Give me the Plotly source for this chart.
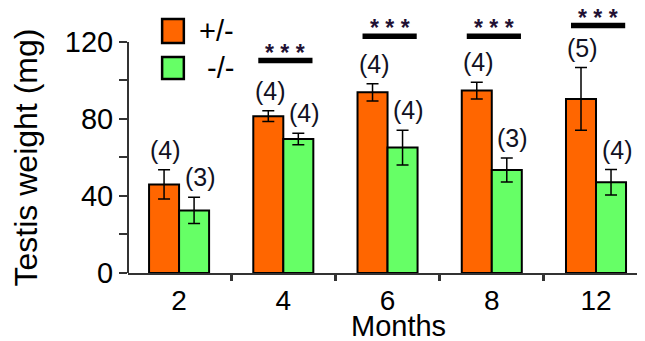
import plotly.graph_objects as go

months = ["2", "4", "6", "8", "12"]
het_mean = [46, 81.4, 93.8, 94.7, 90.4]
het_err = [7.6, 2.8, 4.5, 4.4, 16.3]
ko_mean = [32.5, 69.6, 65.1, 53.5, 47.1]
ko_err = [6.8, 3.0, 9.0, 6.2, 6.6]
het_n = ["(4)", "(4)", "(4)", "(4)", "(5)"]
ko_n = ["(3)", "(4)", "(4)", "(3)", "(4)"]
sig_idx = [1, 2, 3, 4]
sig_level = [110.3, 122.9, 122.9, 128.5]
sig_text = ["* * *"] * 4
series_names = ["+/-", "-/-"]
colors = ["#FF6600", "#66FF66"]
yticks = [0, 40, 80, 120]
yminor = [20, 60, 100]

xpos = list(range(len(months)))
FONT = "Liberation Sans, Arial, sans-serif"

fig = go.Figure()
for name, mean, err, col in [(series_names[0], het_mean, het_err, colors[0]),
                             (series_names[1], ko_mean, ko_err, colors[1])]:
    fig.add_trace(go.Bar(
        x=xpos, y=mean, name=name,
        marker=dict(color=col, line=dict(color="black", width=2)),
        error_y=dict(type="data", array=err, visible=True, color="black",
                     thickness=1.5, width=6),
        showlegend=False,
    ))

annotations = []
for i in xpos:
    annotations.append(dict(x=i - 0.145, y=het_mean[i] + het_err[i], text=het_n[i],
                            xref="x", yref="y", showarrow=False, yanchor="middle",
                            yshift=20, xshift=2, font=dict(size=25, color="#111122", family=FONT)))
    annotations.append(dict(x=i + 0.145, y=ko_mean[i] + ko_err[i], text=ko_n[i],
                            xref="x", yref="y", showarrow=False, yanchor="middle",
                            yshift=20, xshift=6, font=dict(size=25, color="#111122", family=FONT)))

shapes = []
for i, lvl, t in zip(sig_idx, sig_level, sig_text):
    shapes.append(dict(type="line", xref="x", yref="y", x0=i - 0.24, x1=i + 0.28,
                       y0=lvl, y1=lvl, line=dict(color="black", width=5.5)))
    annotations.append(dict(x=i + 0.02, y=lvl, text="<b>" + t + "</b>", xref="x", yref="y",
                            showarrow=False, yanchor="middle", yshift=8,
                            font=dict(size=23, color="#221133", family=FONT)))

# y axis line (0..120 only)
shapes.append(dict(type="line", xref="paper", yref="y", x0=0, x1=0, y0=-0.8, y1=yticks[-1],
                   line=dict(color="#333333", width=2)))

# manual legend
leg = [(series_names[0], colors[0], 0.977, 0.885, 0.931),
       (series_names[1], colors[1], 0.831, 0.746, 0.788)]
for name, col, yt, yb, yc in leg:
    shapes.append(dict(type="rect", xref="paper", yref="paper", x0=0.066, x1=0.108,
                       y0=yb, y1=yt, fillcolor=col, line=dict(color="black", width=2.5)))
    annotations.append(dict(x=0.209, y=yc, xref="paper", yref="paper", text=name,
                            showarrow=False, xanchor="right", yanchor="middle",
                            font=dict(size=29, color="black", family=FONT)))

annotations.append(dict(x=-0.197, y=0.445, xref="paper", yref="paper", text="Testis weight (mg)",
                        textangle=-90, showarrow=False, xanchor="center", yanchor="middle",
                        font=dict(size=32, color="black", family=FONT)))
annotations.append(dict(x=0.524, y=-0.203, xref="paper", yref="paper", text="Months",
                        showarrow=False, xanchor="center", yanchor="middle",
                        font=dict(size=29, color="black", family=FONT)))

# page body has an 8px default margin: size figure so plot area lands at x 128..645, y 13..273
fig.update_layout(
    width=637, height=333,
    margin=dict(l=120, r=0, t=5, b=68),
    paper_bgcolor="white", plot_bgcolor="white",
    barmode="group", bargap=0.424, bargroupgap=0,
    shapes=shapes, annotations=annotations,
    font=dict(family=FONT, color="black"),
    xaxis=dict(range=[-0.49, 4.47], tickvals=xpos, ticktext=months, ticks="",
               showline=True, linecolor="#333333", linewidth=2, showgrid=False,
               zeroline=False, tickfont=dict(size=28, family=FONT, color="black"),
               ticklabelstandoff=1,
               minor=dict(tickvals=[0.5, 1.5, 2.5, 3.5], ticks="outside", ticklen=6,
                          tickwidth=2.5, tickcolor="#333333", showgrid=False)),
    yaxis=dict(range=[0, 135], tickvals=yticks, ticks="outside", ticklen=8, tickwidth=2,
               tickcolor="#333333", showline=False, showgrid=False, zeroline=False,
               tickfont=dict(size=29, family=FONT, color="black"),
               minor=dict(tickvals=yminor, ticks="outside", ticklen=8, tickwidth=2,
                          tickcolor="#333333", showgrid=False)),
)

fig.write_html("out.html")
